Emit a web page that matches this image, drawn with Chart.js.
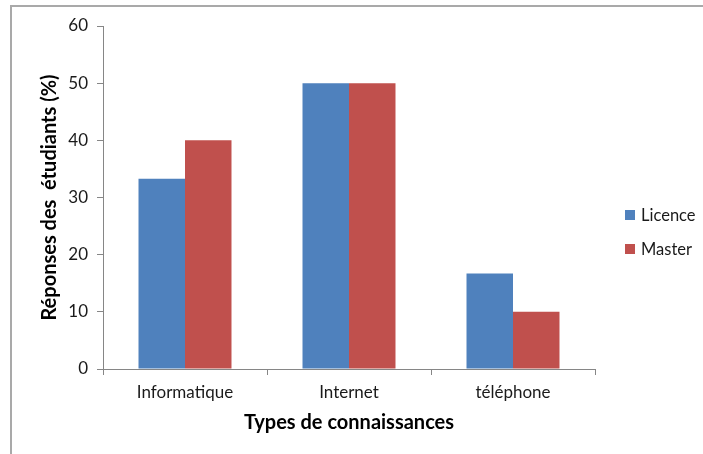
<!DOCTYPE html>
<html lang="fr">
<head>
<meta charset="utf-8">
<title>Réponses des étudiants par type de connaissances</title>
<script src="https://cdn.jsdelivr.net/npm/chart.js@4.4.1/dist/chart.umd.min.js"></script>
<style>
  html, body { margin: 0; padding: 0; background: #ffffff; }
  #wrap { position: relative; width: 703px; height: 454px; overflow: hidden; }
  #frame {
    position: absolute; left: 10px; top: 5px; width: 800px; height: 500px;
    border-left: 2px solid #a9a9a9; border-top: 2px solid #a9a9a9;
    pointer-events: none;
  }
  canvas { display: block; }
</style>
</head>
<body>
<div id="wrap">
  <canvas id="chart" width="703" height="454"></canvas>
  <div id="frame"></div>
</div>
<script>
// Categories, series and axis ticks
const categories = ['Informatique', 'Internet', 'téléphone'];
const licence = [33.3, 50, 16.7];
const master = [40, 50, 10];
const yTicks = [0, 10, 20, 30, 40, 50, 60];

const FONT = 'Lato, "Open Sans", "DejaVu Sans", sans-serif';
const AXIS_GREY = '#868686';

// Legend drawn at the right, beside the plot
const sideLegend = {
  id: 'sideLegend',
  afterDraw(chart) {
    const ctx = chart.ctx;
    ctx.save();
    ctx.font = '16.5px ' + FONT;
    ctx.textBaseline = 'middle';
    ctx.textAlign = 'left';
    chart.data.datasets.forEach((ds, i) => {
      const cy = 215 + i * 34;
      ctx.fillStyle = ds.backgroundColor;
      ctx.fillRect(625, cy - 5, 10, 10);
      ctx.fillStyle = '#1a1a1a';
      ctx.fillText(ds.label, 641, cy + 1);
    });
    ctx.restore();
  }
};

new Chart(document.getElementById('chart'), {
  type: 'bar',
  data: {
    labels: categories,
    datasets: [
      { label: 'Licence', data: licence, backgroundColor: '#4F81BD' },
      { label: 'Master', data: master, backgroundColor: '#C0504D' }
    ]
  },
  options: {
    responsive: false,
    animation: false,
    devicePixelRatio: 1,
    datasets: { bar: { categoryPercentage: 0.567, barPercentage: 1.0 } },
    layout: { padding: { left: 0, right: 108, top: 26, bottom: 0 } },
    plugins: {
      legend: { display: false },
      tooltip: { enabled: false }
    },
    scales: {
      x: {
        grid: {
          offset: true, drawOnChartArea: false, drawTicks: true,
          tickLength: 6, color: AXIS_GREY
        },
        border: { display: true, color: AXIS_GREY, width: 1 },
        ticks: { color: '#1a1a1a', font: { family: FONT, size: 17 }, padding: 7, maxRotation: 0 },
        title: {
          display: true, text: 'Types de connaissances', color: '#000000',
          font: { family: FONT, size: 20, weight: 'bold' },
          padding: { top: 0, bottom: 19 }
        },
        afterFit(scale) { scale.height = 85; }
      },
      y: {
        min: 0, max: 60,
        afterBuildTicks(scale) { scale.ticks = yTicks.map(v => ({ value: v })); },
        grid: {
          drawOnChartArea: false, drawTicks: true, tickLength: 6, color: AXIS_GREY
        },
        border: { display: true, color: AXIS_GREY, width: 1 },
        ticks: { color: '#1a1a1a', font: { family: FONT, size: 17 }, padding: 9 },
        title: {
          display: true, text: 'Réponses des  étudiants (%)', color: '#000000',
          font: { family: FONT, size: 20, weight: 'bold' },
          padding: { top: 38, bottom: 0 }
        },
        afterFit(scale) { scale.width = 103; }
      }
    }
  },
  plugins: [sideLegend]
});
</script>
</body>
</html>
